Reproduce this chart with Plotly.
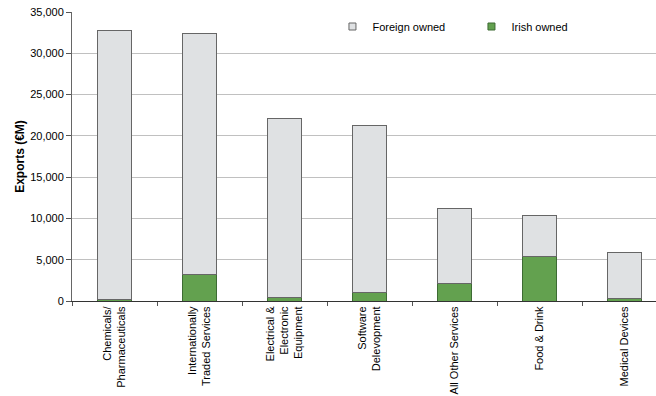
import plotly.graph_objects as go

categories = ["Chemicals/<br>Pharmaceuticals", "Internationally<br>Traded Services",
              "Electrical &<br>Electronic<br>Equipment", "Software<br>Delevopment",
              "All Other Services", "Food & Drink", "Medical Devices"]
irish_owned = [200, 3150, 400, 1090, 2180, 5450, 250]
total_exports = [32700, 32350, 22150, 21200, 11250, 10400, 5930]
foreign_owned = [t - i for t, i in zip(total_exports, irish_owned)]

y_ticks = [0, 5000, 10000, 15000, 20000, 25000, 30000, 35000]
y_tick_labels = ["0", "5,000", "10,000", "15,000", "20,000", "25,000", "30,000", "35,000"]

irish_fill, irish_edge = "#63a14f", "#3d6b33"
foreign_fill, foreign_edge = "#dfe1e3", "#666666"

fig = go.Figure()
fig.add_trace(go.Bar(x=categories, y=irish_owned, name="Irish owned", showlegend=False,
                     marker=dict(color=irish_fill, line=dict(color=irish_edge, width=1)),
                     width=0.41))
fig.add_trace(go.Bar(x=categories, y=foreign_owned, name="Foreign owned", showlegend=False,
                     marker=dict(color=foreign_fill, line=dict(color=foreign_edge, width=1)),
                     width=0.41))
# legend entries with small square swatches
fig.add_trace(go.Scatter(x=[None], y=[None], mode="markers", name="Foreign owned",
                         marker=dict(symbol="square", size=7, color=foreign_fill,
                                     line=dict(color=foreign_edge, width=1))))
fig.add_trace(go.Scatter(x=[None], y=[None], mode="markers", name="Irish owned",
                         marker=dict(symbol="square", size=7, color=irish_fill,
                                     line=dict(color=irish_edge, width=1))))

fig.update_layout(
    barmode="stack",
    width=656, height=396,
    margin=dict(l=72, r=0, t=12, b=95),
    paper_bgcolor="white", plot_bgcolor="white",
    font=dict(family="Liberation Sans, Arial, sans-serif", size=11, color="#000000"),
    showlegend=True,
    legend=dict(orientation="h", x=0.446, y=1.0, xanchor="left", yanchor="top",
                traceorder="normal", itemwidth=30, entrywidth=94,
                font=dict(size=11), bgcolor="rgba(0,0,0,0)"),
    bargap=0.59,
)
fig.update_xaxes(
    range=[-0.5, 6.37], tickangle=-90, ticks="outside", tickson="boundaries",
    ticklen=4, tickcolor="#555555", showline=True, linecolor="#333333", linewidth=1,
    showgrid=False, tickfont=dict(size=11),
)
fig.update_yaxes(
    range=[0, 35000], tickvals=y_ticks, ticktext=y_tick_labels,
    ticks="outside", ticklen=5, tickcolor="#555555",
    showline=True, linecolor="#666666", linewidth=1,
    showgrid=True, gridcolor="#c0c0c0", gridwidth=1,
    title=dict(text="<b>Exports (€M)</b>", font=dict(size=12), standoff=2),
    tickfont=dict(size=11), zeroline=False,
)

fig.write_html("out.html")
